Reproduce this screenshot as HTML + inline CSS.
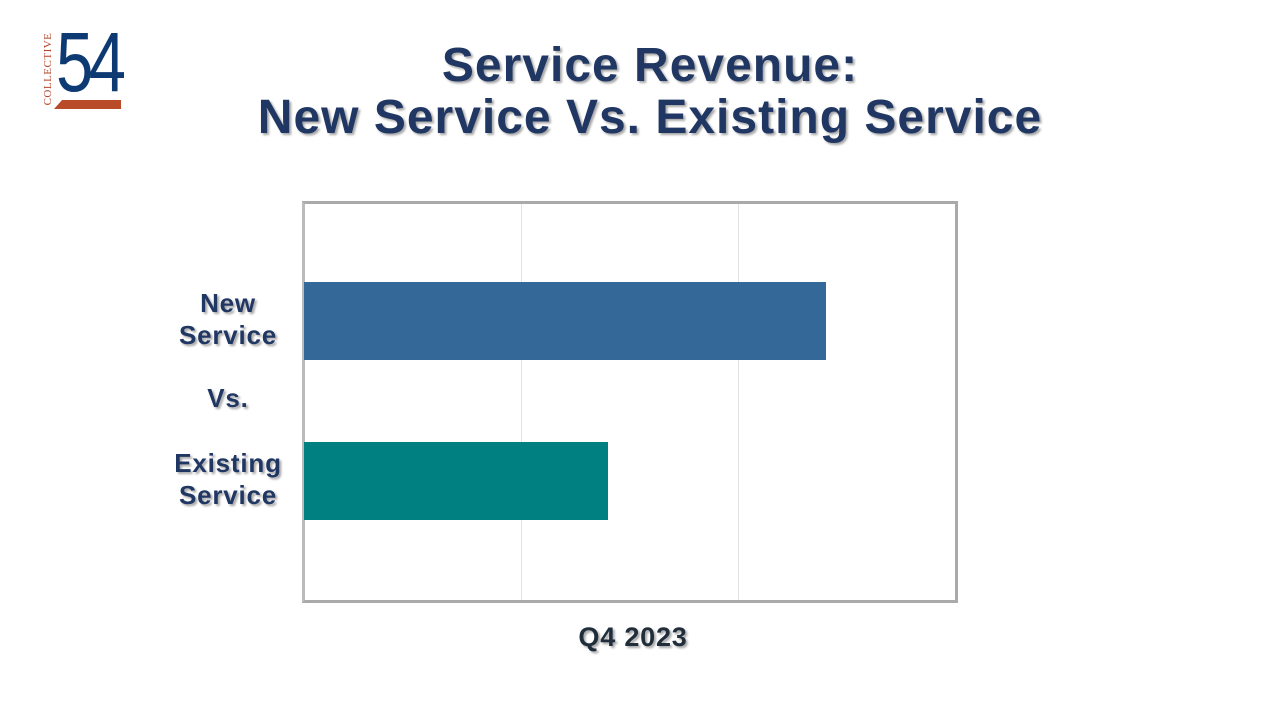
<!DOCTYPE html>
<html><head><meta charset="utf-8"><style>
body{margin:0;width:1280px;height:720px;background:#fff;position:relative;overflow:hidden;font-family:"Liberation Sans",sans-serif}
.t{position:absolute;color:#213763;font-weight:bold;text-shadow:2px 2px 2px rgba(0,0,0,0.35);text-align:center}
</style></head><body>
<div class="t" style="left:0;width:1300px;top:40px;font-size:48px;line-height:52px;letter-spacing:1px">Service Revenue:<br>New Service Vs. Existing Service</div>
<!-- logo -->
<div style="position:absolute;left:42px;top:30px;width:12px;height:78px;">
<div style="position:absolute;left:-33px;top:33px;width:78px;transform:rotate(-90deg);font-family:'Liberation Serif',serif;font-size:11px;color:#b5452a;text-align:center;letter-spacing:0.5px">COLLECTIVE</div></div>
<div style="position:absolute;left:56px;top:20px;font-size:84px;line-height:84px;color:#0e3a74;letter-spacing:-6px;transform:scaleX(0.8);transform-origin:left">54</div>
<div style="position:absolute;left:54px;top:100px;width:67px;height:9px;background:#b94b28;clip-path:polygon(12% 0,100% 0,100% 100%,0 100%)"></div>
<!-- chart -->
<div style="position:absolute;left:302px;top:201px;width:650px;height:396px;border:3px solid #aaa;border-left:3px solid #bbb"></div>
<div style="position:absolute;left:521px;top:204px;width:1px;height:396px;background:#e3e3e3"></div>
<div style="position:absolute;left:738px;top:204px;width:1px;height:396px;background:#e3e3e3"></div>
<div style="position:absolute;left:304px;top:282px;width:522px;height:78px;background:#336899"></div>
<div style="position:absolute;left:304px;top:442px;width:304px;height:78px;background:#008080"></div>
<div class="t" style="left:158px;width:140px;top:287px;font-size:26px;line-height:32px;letter-spacing:0.8px">New<br>Service</div>
<div class="t" style="left:158px;width:140px;top:382px;font-size:26px;line-height:32px;letter-spacing:0.8px">Vs.</div>
<div class="t" style="left:158px;width:140px;top:447px;font-size:26px;line-height:32px;letter-spacing:0.8px">Existing<br>Service</div>
<div class="t" style="left:533px;width:200px;top:621px;font-size:27px;line-height:32px;color:#1f2e3a;letter-spacing:0.8px">Q4 2023</div>
</body></html>
